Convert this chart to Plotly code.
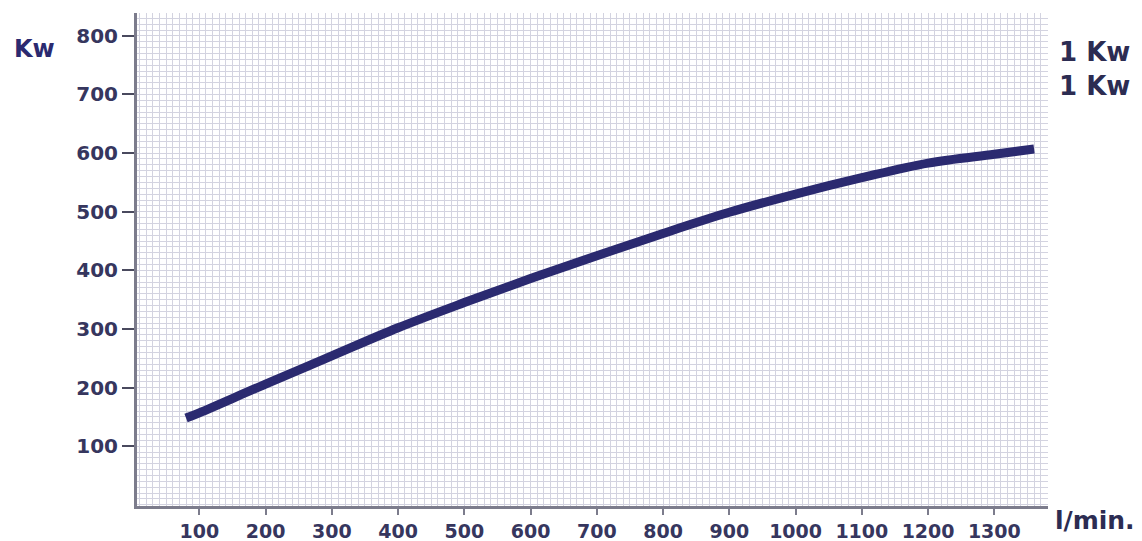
import plotly.graph_objects as go

# flow (l/min) vs power (Kw)
flow = [80, 100, 200, 300, 400, 500, 600, 700, 800, 900, 1000, 1100, 1200, 1300, 1360]
power = [148, 157, 206, 254, 302, 345, 386, 425, 463, 499, 530, 558, 583, 598, 607]

x_ticks = [100, 200, 300, 400, 500, 600, 700, 800, 900, 1000, 1100, 1200, 1300]
y_ticks = [100, 200, 300, 400, 500, 600, 700, 800]

navy = "#2b2a70"
label_col = "#36365e"
grid_col = "#d3d3e0"
axis_col = "#7c7c8c"
font_name = "DejaVu Sans"

fig = go.Figure()

fig.add_trace(
    go.Scatter(
        x=flow,
        y=power,
        mode="lines",
        line=dict(color=navy, width=9, shape="spline"),
        hoverinfo="x+y",
    )
)

# the page body adds an 8px margin, so the figure is 8px smaller each way
fig.update_layout(
    width=1134,
    height=533,
    margin=dict(l=129, r=94, t=5, b=35),
    paper_bgcolor="white",
    plot_bgcolor="white",
    showlegend=False,
    font=dict(family=font_name, color=label_col),
    xaxis=dict(
        range=[6, 1381],
        tickvals=x_ticks,
        ticks="outside",
        ticklen=6,
        tickwidth=2,
        tickcolor=axis_col,
        tickfont=dict(family=font_name, size=19, color=label_col, weight="bold"),
        showline=True,
        linecolor=axis_col,
        linewidth=3,
        showgrid=True,
        gridcolor=grid_col,
        gridwidth=1,
        minor=dict(dtick=10, tick0=0, showgrid=True, gridcolor=grid_col, gridwidth=1),
        zeroline=False,
        automargin=False,
    ),
    yaxis=dict(
        range=[-2, 839],
        tickvals=y_ticks,
        ticks="outside",
        ticklen=12,
        tickwidth=2,
        tickcolor="#4a4a5e",
        tickfont=dict(family=font_name, size=20, color=label_col, weight="bold"),
        showline=True,
        linecolor=axis_col,
        linewidth=3,
        showgrid=True,
        gridcolor=grid_col,
        gridwidth=1,
        minor=dict(dtick=10, tick0=0, showgrid=True, gridcolor=grid_col, gridwidth=1),
        zeroline=False,
        automargin=False,
    ),
)

# axis captions and side notes
notes = [
    ("Kw", -0.112, 0.927, 24, navy),
    ("1 Kw", 1.0505, 0.921, 26, "#2c2c52"),
    ("1 Kw", 1.0505, 0.852, 26, "#2c2c52"),
    ("l/min.", 1.0516, -0.030, 25, "#2c2c52"),
]
for text, xp, yp, size, col in notes:
    fig.add_annotation(
        text=text,
        x=xp,
        y=yp,
        xref="paper",
        yref="paper",
        showarrow=False,
        xanchor="center",
        yanchor="middle",
        font=dict(family=font_name, size=size, color=col, weight="bold"),
    )

fig.write_html("out.html")
